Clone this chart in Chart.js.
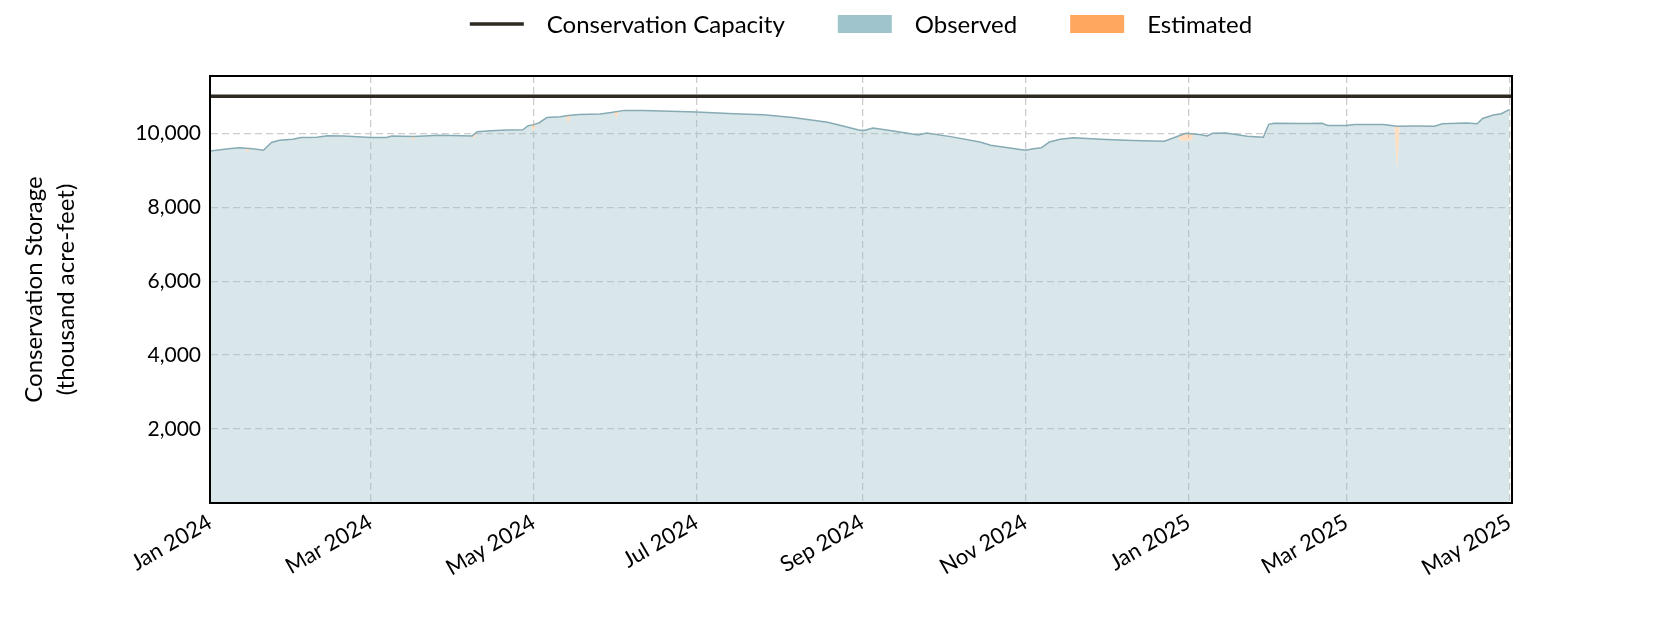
<!DOCTYPE html>
<html>
<head>
<meta charset="utf-8">
<script src="https://cdn.jsdelivr.net/npm/chart.js@4.4.1/dist/chart.umd.min.js"></script>
<style>
  html, body { margin: 0; padding: 0; background: #fff; }
  #wrap { width: 1680px; height: 630px; }
</style>
</head>
<body>
<div id="wrap"><canvas id="storage-chart"></canvas></div>
<script>
// storage (thousand acre-feet)
var obsDates = ["2024-01-01","2024-01-08","2024-01-12","2024-01-17","2024-01-21","2024-01-24","2024-01-27",
	"2024-02-01","2024-02-04","2024-02-10","2024-02-14","2024-02-20","2024-03-01","2024-03-07","2024-03-09",
	"2024-03-17","2024-03-27","2024-04-08","2024-04-10","2024-04-15","2024-04-21","2024-04-27","2024-04-29",
	"2024-05-01","2024-05-03","2024-05-06","2024-05-11","2024-05-14","2024-05-18","2024-05-26","2024-05-30",
	"2024-06-04","2024-06-11","2024-07-01","2024-07-15","2024-07-26","2024-08-06","2024-08-19","2024-08-24",
	"2024-08-31","2024-09-02","2024-09-05","2024-09-12","2024-09-22","2024-09-25","2024-10-04","2024-10-15",
	"2024-10-19","2024-10-30","2024-11-01","2024-11-04","2024-11-07","2024-11-10","2024-11-14","2024-11-19",
	"2024-11-29","2024-12-11","2024-12-23","2024-12-28","2024-12-31","2025-01-05","2025-01-08","2025-01-10",
	"2025-01-15","2025-01-23","2025-01-29","2025-01-31","2025-02-02","2025-02-14","2025-02-20","2025-02-22",
	"2025-03-01","2025-03-04","2025-03-15","2025-03-20","2025-03-27","2025-04-03","2025-04-06","2025-04-15",
	"2025-04-19","2025-04-21","2025-04-25","2025-04-28","2025-05-01"];
var obsValues = [9520,9580,9610,9580,9540,9750,9810,
	9840,9885,9895,9935,9930,9885,9885,9925,
	9915,9945,9930,10045,10070,10090,10095,10205,
	10235,10280,10425,10450,10480,10510,10520,10560,
	10620,10620,10575,10530,10505,10430,10300,10210,
	10080,10080,10140,10070,9955,10005,9910,9765,
	9675,9560,9540,9585,9610,9765,9840,9880,
	9840,9805,9785,9920,10000,9970,9930,10000,
	10005,9920,9895,10243,10270,10262,10270,10210,
	10210,10235,10235,10190,10195,10190,10260,10280,
	10260,10400,10495,10530,10640];

// days where the observed fill drops away (estimated values instead)
var dipDates = ["2024-01-14","2024-01-15","2024-01-16","2024-03-16","2024-03-17","2024-03-18","2024-04-09",
	"2024-04-30","2024-05-01","2024-05-02","2024-05-13","2024-05-14","2024-05-15","2024-05-31","2024-06-01","2024-06-02",
	"2024-12-29","2024-12-31","2025-01-02","2025-01-03","2025-03-19","2025-03-20","2025-03-21"];
var dipValues = [9600,9480,9590,9915,9810,9915,9860,
	10220,10060,10255,10470,10265,10490,10575,10400,10600,
	9800,9800,9810,9985,10195,9050,10190];

var estDates = [["2024-01-14","2024-01-15","2024-01-16"],["2024-03-16","2024-03-17","2024-03-18"],
	["2024-04-08","2024-04-09","2024-04-10"],["2024-04-30","2024-05-01","2024-05-02"],
	["2024-05-13","2024-05-14","2024-05-15"],["2024-05-31","2024-06-01","2024-06-02"],
	["2024-12-28","2024-12-29","2024-12-31","2025-01-02","2025-01-03"],["2025-03-19","2025-03-20","2025-03-21"]];
var estValues = [[9600,9600,9590],[9915,9915,9915],
	[9930,9990,10045],[10220,10235,10255],
	[10470,10480,10490],[10575,10590,10600],
	[9920,9960,10000,10000,9985],[10195,10190,10190]];

var capacity = 11000;
var yMax = 11550;
var yTicks = [2000, 4000, 6000, 8000, 10000];
var tickDates = ["2024-01-01","2024-03-01","2024-05-01","2024-07-01","2024-09-01","2024-11-01","2025-01-01","2025-03-01","2025-05-01"];
var tickLabels = ["Jan 2024","Mar 2024","May 2024","Jul 2024","Sep 2024","Nov 2024","Jan 2025","Mar 2025","May 2025"];
var startDate = "2024-01-01";
var endDate = "2025-05-02";

function dayOf(d) {
	return Math.round((Date.parse(d) - Date.parse(startDate)) / 86400000);
}

var obsPoints = obsDates.map(function(d, i) { return { x: dayOf(d), y: obsValues[i] }; });

// fill under observed: same as the line, but with the dips
var fillMap = {};
obsDates.forEach(function(d, i) { fillMap[dayOf(d)] = obsValues[i]; });
dipDates.forEach(function(d, i) { fillMap[dayOf(d)] = dipValues[i]; });
var fillPoints = Object.keys(fillMap).map(Number).sort(function(a, b) { return a - b; })
	.map(function(k) { return { x: k, y: fillMap[k] }; });

var estPoints = [];
estDates.forEach(function(seg, s) {
	seg.forEach(function(d, i) { estPoints.push({ x: dayOf(d), y: estValues[s][i] }); });
	estPoints.push({ x: dayOf(seg[seg.length - 1]) + 0.5, y: null });
});

var legendItems = [
	{ text: "Conservation Capacity", kind: "line", color: "#2e2a22" },
	{ text: "Observed", kind: "box", color: "#9fc4cb" },
	{ text: "Estimated", kind: "box", color: "#ffa75e" }
];

Chart.defaults.font.family = "Lato, 'Noto Sans', sans-serif";
Chart.defaults.color = "#000";

var frameAndLegend = {
	id: "frameAndLegend",
	afterDatasetsDraw: function(chart) {
		var c = chart.ctx, a = chart.chartArea;
		c.save();
		c.strokeStyle = "#000";
		c.lineWidth = 2;
		c.strokeRect(a.left, a.top, a.right - a.left, a.bottom - a.top);
		c.restore();
	},
	afterDraw: function(chart) {
		var c = chart.ctx, a = chart.chartArea;
		var boxW = 54, gap = 23, itemGap = 53, y = 24;
		c.save();
		c.font = "24px Lato, 'Noto Sans', sans-serif";
		c.textBaseline = "middle";
		var total = 0;
		legendItems.forEach(function(it, i) {
			it.w = c.measureText(it.text).width;
			total += boxW + gap + it.w + (i ? itemGap : 0);
		});
		var x = (a.left + a.right) / 2 - total / 2;
		legendItems.forEach(function(it) {
			if (it.kind === "line") {
				c.strokeStyle = it.color;
				c.lineWidth = 3.5;
				c.beginPath(); c.moveTo(x, y); c.lineTo(x + boxW, y); c.stroke();
			} else {
				c.fillStyle = it.color;
				c.fillRect(x, y - 9, boxW, 18);
			}
			c.fillStyle = "#000";
			c.fillText(it.text, x + boxW + gap, y + 1);
			x += boxW + gap + it.w + itemGap;
		});
		c.restore();
	}
};

var ctx = document.getElementById("storage-chart");

var data = {
	datasets : [
		{
			label : "Conservation Capacity",
			data : [{ x: 0, y: capacity }, { x: dayOf(endDate), y: capacity }],
			borderColor : "#2e2a22",
			borderWidth : 3.5,
			pointRadius : 0,
			fill : false,
			order : 0
		},
		{
			label : "Storage",
			data : obsPoints,
			borderColor : "#86abb4",
			borderWidth : 1.5,
			pointRadius : 0,
			fill : false,
			lineTension : 0,
			order : 1
		},
		{
			label : "Estimated",
			data : estPoints,
			borderWidth : 0,
			borderColor : "rgba(0,0,0,0)",
			backgroundColor : "rgba(255,167,94,0.38)",
			pointRadius : 0,
			spanGaps : false,
			fill : 3,
			order : 2
		},
		{
			label : "Observed",
			data : fillPoints,
			borderWidth : 0,
			borderColor : "rgba(0,0,0,0)",
			backgroundColor : "rgba(159,196,203,0.4)",
			pointRadius : 0,
			fill : "origin",
			order : 3
		}
	]
};

var options = {
	responsive : true,
	maintainAspectRatio : false,
	animation : false,
	layout : { padding : { top: 76, right: 168, left: 0, bottom: 0 } },
	plugins : {
		legend : { display : false },
		tooltip : { enabled : false }
	},
	scales : {
		x : {
			type : "linear",
			min : 0,
			max : dayOf(endDate),
			afterBuildTicks : function(scale) {
				scale.ticks = tickDates.map(function(d) { return { value: dayOf(d) }; });
			},
			afterFit : function(scale) { scale.height = 127; },
			ticks : {
				autoSkip : false,
				minRotation : 30,
				maxRotation : 30,
				padding : 6,
				font : { size : 22 },
				callback : function(v, i) { return tickLabels[i]; }
			},
			grid : { color : "#cccccc", lineWidth : 1.3, drawTicks : false },
			border : { display : true, color : "#000", width : 2, dash : [7, 4] }
		},
		y : {
			min : 0,
			max : yMax,
			afterBuildTicks : function(scale) {
				scale.ticks = yTicks.map(function(v) { return { value: v }; });
			},
			afterFit : function(scale) { scale.width = 210; },
			ticks : {
				padding : 9,
				font : { size : 21 },
				callback : function(v) { return v.toLocaleString("en-US"); }
			},
			grid : { color : "#cccccc", lineWidth : 1.3, drawTicks : false },
			border : { display : true, color : "#000", width : 2, dash : [7, 4] },
			title : {
				display : true,
				text : ["Conservation Storage", "(thousand acre-feet)"],
				font : { size : 24, lineHeight : 1.3 },
				padding : { top : 19, bottom : 0 }
			}
		}
	}
};

var chart = new Chart(ctx, {
	type : "line",
	data : data,
	options : options,
	plugins : [frameAndLegend]
});
</script>
</body>
</html>
